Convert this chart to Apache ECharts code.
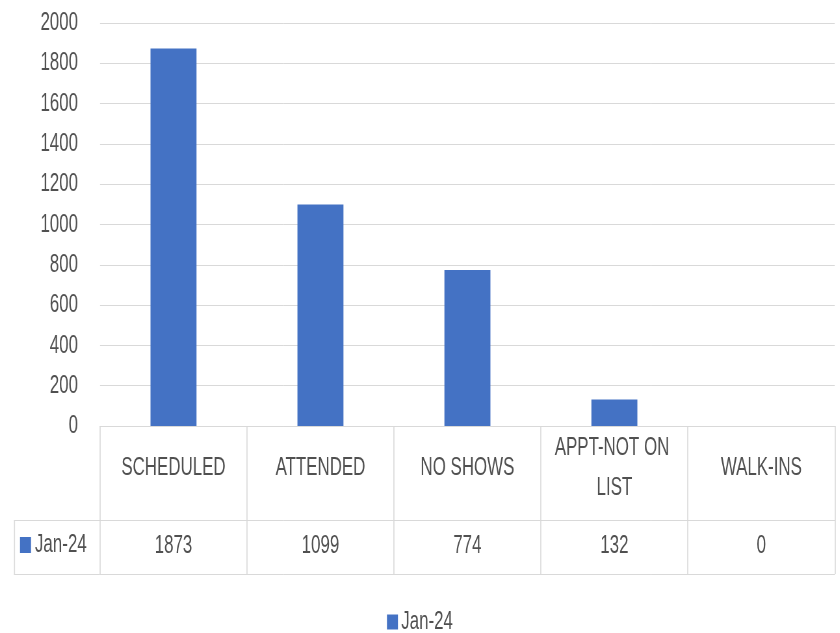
<!DOCTYPE html>
<html>
<head>
<meta charset="utf-8">
<script src="https://cdn.jsdelivr.net/npm/echarts@6/dist/echarts.min.js"></script>
<style>
    html, body { margin: 0; padding: 0; background: #fff; overflow: hidden; }
    /* the original picture is squeezed sideways, so draw wide and squeeze */
    #main { width: 1292px; height: 633px; transform: scaleX(0.65); transform-origin: 0 0; }
</style>
</head>
<body>
<div id="main"></div>
<script>
/* data */
var categories = ['SCHEDULED', 'ATTENDED', 'NO SHOWS', 'APPT-NOT ON LIST', 'WALK-INS'];
var seriesName = 'Jan-24';
var values = [1873, 1099, 774, 132, 0];
var yTicks = [0, 200, 400, 600, 800, 1000, 1200, 1400, 1600, 1800, 2000];

var sx = 0.65; // horizontal squeeze, px = logical * sx
var font = '"Liberation Sans", Arial, sans-serif';
var textColor = '#505050';
var lineColor = '#d9d9d9';
var barColor = '#4472c4';

var chart = echarts.init(document.getElementById('main'));
chart.setOption({
    animation: false,
    textStyle: { fontFamily: font },
    grid: { left: 100 / sx, right: 5 / sx, top: 23, bottom: 207 },
    legend: {
        top: 604,
        left: 'center',
        icon: 'rect',
        itemWidth: 11 / sx,
        itemHeight: 15,
        itemGap: 4,
        textStyle: { color: textColor, fontSize: 26, fontFamily: font },
        data: [seriesName]
    },
    xAxis: [
        {   /* header row of the data table */
            type: 'category',
            data: categories,
            axisLine: { lineStyle: { color: lineColor, width: 1 } },
            axisTick: { show: true, length: 148, lineStyle: { color: lineColor, width: 1.6 } },
            axisLabel: {
                interval: 0,
                margin: 42,
                verticalAlign: 'middle',
                lineHeight: 40,
                width: 200,
                overflow: 'break',
                color: textColor,
                fontSize: 26,
                fontFamily: font
            }
        },
        {   /* values row */
            type: 'category',
            data: categories,
            position: 'bottom',
            offset: 94,
            axisLine: { lineStyle: { color: lineColor, width: 1 } },
            axisTick: { show: false },
            axisLabel: {
                interval: 0,
                margin: 26,
                verticalAlign: 'middle',
                color: textColor,
                fontSize: 26,
                fontFamily: font,
                formatter: function (v, i) { return String(values[i]); }
            }
        },
        {   /* bottom border */
            type: 'category',
            data: categories,
            position: 'bottom',
            offset: 148,
            axisLine: { lineStyle: { color: lineColor, width: 1 } },
            axisTick: { show: false },
            axisLabel: { show: false }
        }
    ],
    yAxis: {
        type: 'value',
        min: yTicks[0],
        max: yTicks[yTicks.length - 1],
        interval: yTicks[1] - yTicks[0],
        axisLine: { show: false },
        axisTick: { show: false },
        splitLine: { lineStyle: { color: lineColor, width: 1 } },
        axisLabel: {
            margin: 22 / sx,
            color: textColor,
            fontSize: 26,
            fontFamily: font,
            formatter: function (v) { return String(v); }
        }
    },
    graphic: [
        /* left cell of the values row */
        { type: 'line', shape: { x1: 14 / sx, y1: 520.5, x2: 100 / sx, y2: 520.5 }, style: { stroke: lineColor, lineWidth: 1 } },
        { type: 'line', shape: { x1: 14 / sx, y1: 574.5, x2: 100 / sx, y2: 574.5 }, style: { stroke: lineColor, lineWidth: 1 } },
        { type: 'line', shape: { x1: 14.5 / sx, y1: 520, x2: 14.5 / sx, y2: 575 }, style: { stroke: lineColor, lineWidth: 1.6 } },
        { type: 'rect', shape: { x: 20 / sx, y: 537, width: 11 / sx, height: 16 }, style: { fill: barColor } },
        { type: 'text', x: 35 / sx, y: 545, style: { text: seriesName, fill: textColor, font: '26px ' + font, textVerticalAlign: 'middle' } }
    ],
    series: [
        {
            name: seriesName,
            type: 'bar',
            barWidth: 46 / sx,
            itemStyle: { color: barColor },
            data: values
        }
    ]
});
</script>
</body>
</html>
